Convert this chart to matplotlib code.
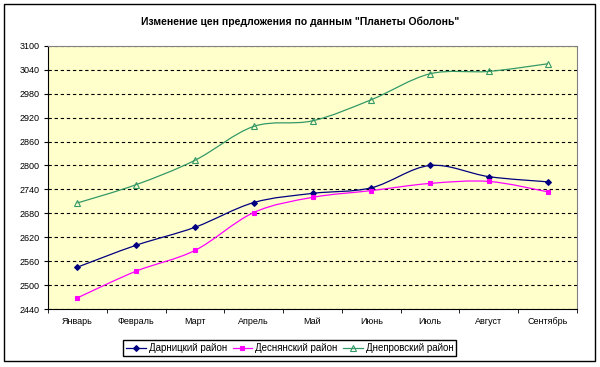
"""Offer price dynamics by district (Planeta Obolon data)."""

import matplotlib.pyplot as plt
import numpy as np
from matplotlib.patches import PathPatch, Rectangle
from matplotlib.path import Path
from matplotlib.lines import Line2D

months = ["Январь", "Февраль", "Март", "Апрель", "Май", "Июнь", "Июль", "Август", "Сентябрь"]
darnitsky = [2545, 2600, 2645, 2707, 2730, 2744, 2800, 2772, 2759]
desnyansky = [2468, 2535, 2587, 2682, 2720, 2737, 2755, 2760, 2734]
dniprovsky = [2706, 2752, 2813, 2898, 2912, 2965, 3030, 3036, 3055]
series_names = ["Дарницкий район", "Деснянский район", "Днепровский район"]
y_ticks = list(range(2440, 3101, 60))


def smooth_path(xs, ys):
    # Catmull-Rom through the points, drawn as cubic Bezier segments
    xs = np.asarray(xs, float)
    ys = np.asarray(ys, float)
    pts = np.column_stack([xs, ys])
    verts = [pts[0]]
    codes = [Path.MOVETO]
    n = len(pts)
    for i in range(n - 1):
        p0 = pts[i - 1] if i > 0 else pts[i]
        p1, p2 = pts[i], pts[i + 1]
        p3 = pts[i + 2] if i + 2 < n else pts[i + 1]
        c1 = p1 + (p2 - p0) / 6.0
        c2 = p2 - (p3 - p1) / 6.0
        verts += [c1, c2, p2]
        codes += [Path.CURVE4] * 3
    return Path(verts, codes)


plt.rcParams["font.family"] = ["Liberation Sans", "DejaVu Sans"]

fig = plt.figure(figsize=(6.0, 3.67), dpi=100)
fig.patches.append(Rectangle((0.007, 0.015), 0.984, 0.973, transform=fig.transFigure,
                             fill=False, edgecolor="black", linewidth=1.0))

ax = fig.add_axes([0.08, 0.158, 0.8817, 0.717])
ax.set_facecolor("#FFFFCC")
for side in ax.spines.values():
    side.set_edgecolor("#808080")
    side.set_linewidth(0.8)

x = np.arange(len(months))
styles = [
    (darnitsky, "#000080", "D", "#000080", 3.0),
    (desnyansky, "#FF00FF", "s", "#FF00FF", 3.0),
    (dniprovsky, "#339966", "^", "none", 4.5),
]
handles = []
for (vals, color, marker, face, ms), name in zip(styles, series_names):
    ax.add_patch(PathPatch(smooth_path(x, vals), fill=False, edgecolor=color,
                           linewidth=0.9, zorder=3))
    ax.plot(x, vals, linestyle="none", marker=marker, markersize=ms,
            markerfacecolor=face, markeredgecolor=color, markeredgewidth=0.8, zorder=4)
    handles.append(Line2D([], [], color=color, linewidth=0.9, marker=marker,
                          markersize=ms, markerfacecolor=face, markeredgecolor=color,
                          markeredgewidth=0.8, label=name))

ax.set_xlim(-0.5, len(months) - 0.5)
ax.set_ylim(y_ticks[0], y_ticks[-1])
ax.set_yticks(y_ticks)
ax.set_yticklabels([str(v) for v in y_ticks], fontsize=6.5)
ax.set_xticks(x)
ax.set_xticklabels(months, fontsize=6.5)
ax.tick_params(axis="x", length=0, pad=6)
ax.set_xticks(np.arange(-0.5, len(months)), minor=True)
ax.tick_params(axis="x", which="minor", length=3, direction="out", color="black")
ax.tick_params(axis="y", length=3, direction="out", pad=3, color="black")
ax.spines["bottom"].set_edgecolor("black")
ax.spines["left"].set_edgecolor("black")
ax.yaxis.grid(True, color="black", linestyle=(0, (3, 2.5)), linewidth=0.8)
ax.set_axisbelow(True)

fig.text(0.5, 0.94, "Изменение цен предложения по данным \"Планеты Оболонь\"",
         ha="center", va="center", fontsize=7.5, fontweight="bold")

fig.legend(handles=handles, loc="center", bbox_to_anchor=(0.483, 0.052), ncol=3,
           fontsize=7, frameon=True, fancybox=False, edgecolor="black",
           handlelength=2.0, handletextpad=0.3, columnspacing=0.6,
           borderpad=0.3, framealpha=1)

fig.savefig("out.png", dpi=100)
